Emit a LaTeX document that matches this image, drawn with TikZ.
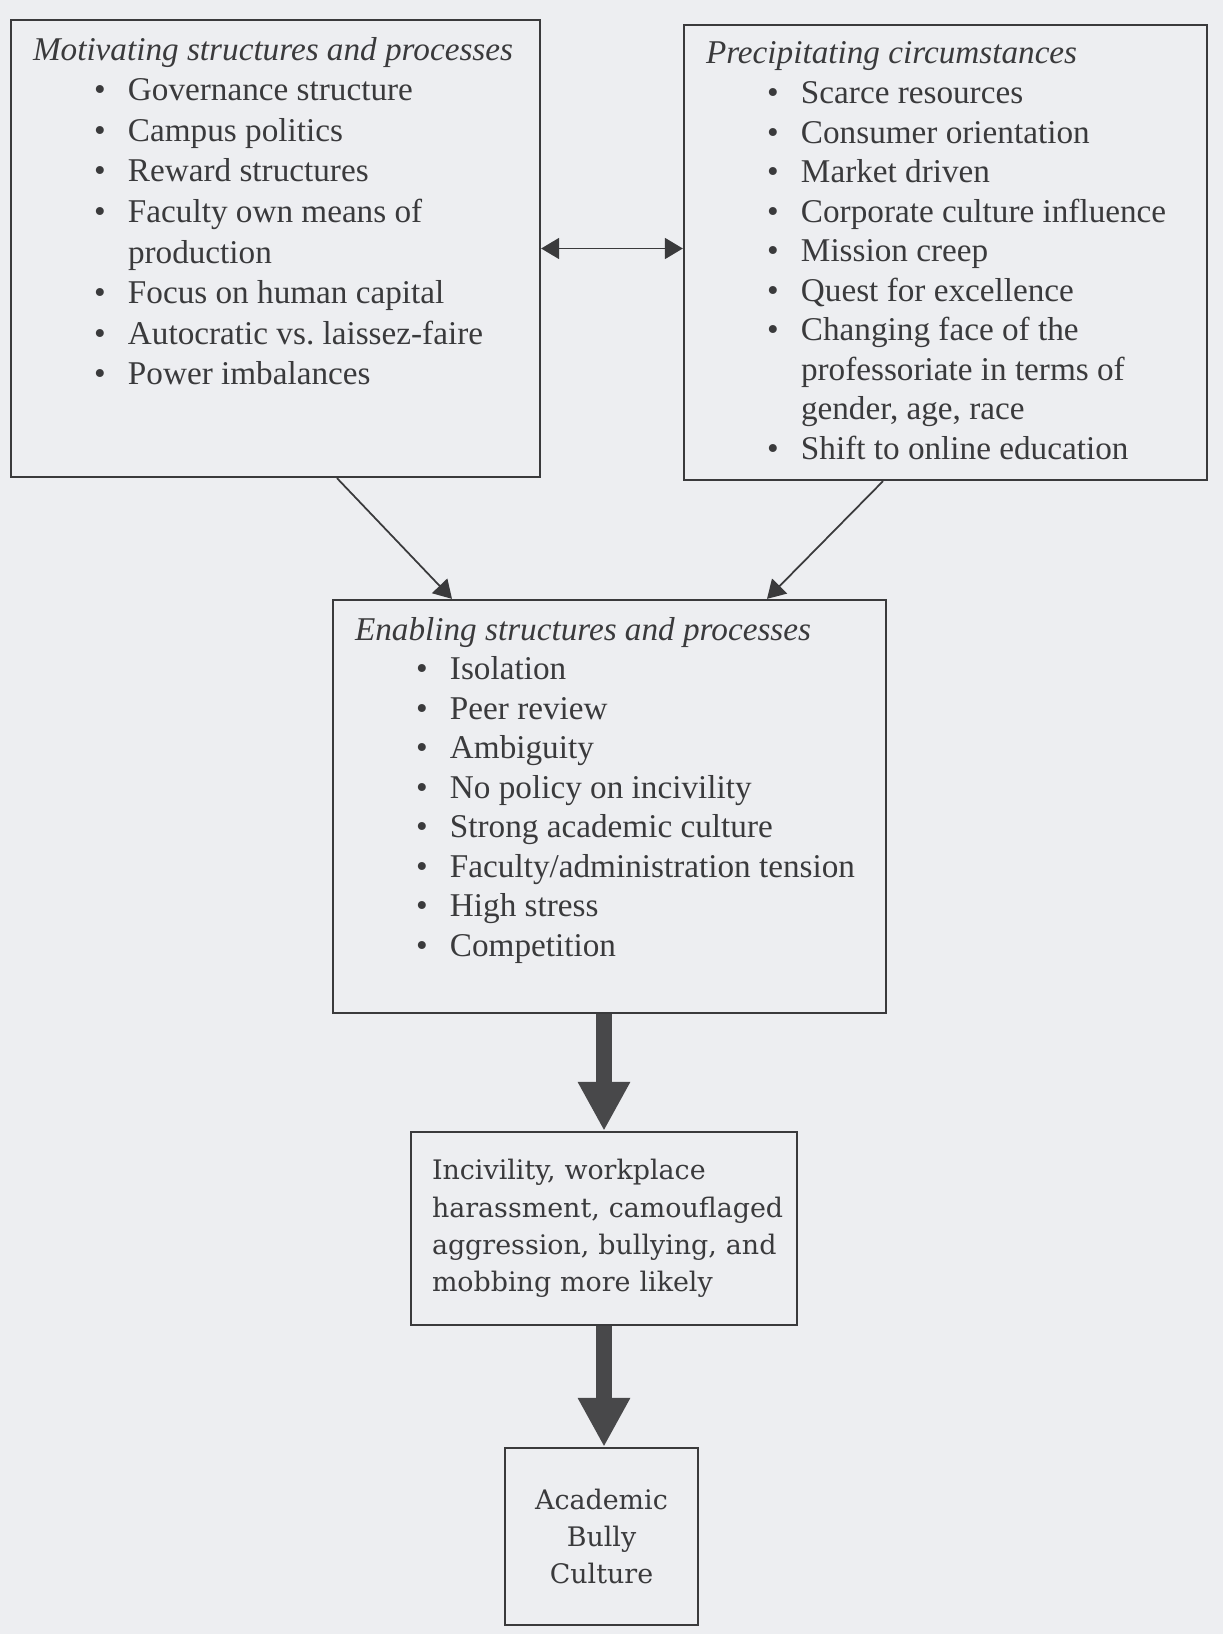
\documentclass[tikz,border=0pt]{standalone}
\usepackage{fontspec}
\setmainfont{Liberation Serif}
\newfontfamily\schoolfont{DejaVu Serif}
\usepackage{tikz}
\usetikzlibrary{arrows.meta,positioning}
\definecolor{inkgray}{RGB}{58,58,60}
\definecolor{fatgray}{RGB}{72,72,74}
\definecolor{papergray}{RGB}{237,238,241}
\newlength{\txtind}
\setlength{\txtind}{1.9cm}
\newcommand{\boxtitle}[1]{\noindent\textit{#1}}
\newcommand{\bitem}[1]{\par\hangindent=\txtind\hangafter=0\noindent\llap{\makebox[0.68cm][l]{\textbullet}}#1}

\begin{document}
\begin{tikzpicture}[
		listbox/.style={draw=inkgray, line width=1.3pt, inner xsep=0.44cm, inner ysep=0.34cm,
			text=inkgray, font=\fontsize{18.9pt}{22.5pt}\selectfont},
		endbox/.style={draw=inkgray, line width=1.3pt, inner xsep=0.42cm, inner ysep=0pt,
			text=inkgray, font=\schoolfont\fontsize{15.3pt}{21.2pt}\selectfont},
		thinarrow/.style={-{Triangle[length=0.36cm,width=0.42cm]}, line width=1pt, inkgray},
		dblarrow/.style={{Triangle[length=0.36cm,width=0.42cm]}-{Triangle[length=0.36cm,width=0.42cm]}, line width=1pt, inkgray},
		fatarrow/.style={-{Triangle[length=0.98cm,width=0.98cm]}, line width=0.32cm, fatgray}
	]
		\path[fill=papergray, use as bounding box] (0,0) rectangle (24.46,-32.68);

		\node[listbox, font=\fontsize{18.9pt}{23.1pt}\selectfont] (m) at (5.51,-4.97) {\parbox[t][8.46cm][t]{9.7cm}{%
			\boxtitle{Motivating structures and processes}
			\bitem{Governance structure}
			\bitem{Campus politics}
			\bitem{Reward structures}
			\bitem{Faculty own means of\\production}
			\bitem{Focus on human capital}
			\bitem{Autocratic vs.\ laissez-faire}
			\bitem{Power imbalances}}};
		\node[listbox] (p) at (18.91,-5.05) {\parbox[t][8.42cm][t]{9.58cm}{%
			\boxtitle{Precipitating circumstances}
			\bitem{Scarce resources}
			\bitem{Consumer orientation}
			\bitem{Market driven}
			\bitem{Corporate culture influence}
			\bitem{Mission creep}
			\bitem{Quest for excellence}
			\bitem{Changing face of the\\professoriate in terms of\\gender, age, race}
			\bitem{Shift to online education}}};
		\node[listbox] (e) at (12.19,-16.13) {\parbox[t][7.58cm][t]{10.18cm}{%
			\boxtitle{Enabling structures and processes}
			\bitem{Isolation}
			\bitem{Peer review}
			\bitem{Ambiguity}
			\bitem{No policy on incivility}
			\bitem{Strong academic culture}
			\bitem{Faculty/administration tension}
			\bitem{High stress}
			\bitem{Competition}}};
		\node[endbox, text width=6.88cm, align=left, minimum height=3.86cm] (i) at (12.08,-24.57)
			{\mbox{Incivility, workplace}\\\mbox{harassment, camouflaged}\\\mbox{aggression, bullying, and}\\\mbox{mobbing more likely}};
		\node[endbox, text width=3.02cm, align=center, minimum height=3.54cm] (c) at (12.03,-30.73)
			{Academic\\Bully\\Culture};

		\draw[dblarrow] (m.east) -- (m.east -| p.west);
		\draw[thinarrow] ([xshift=1.23cm]m.south) -- ([xshift=-3.15cm]e.north);
		\draw[thinarrow] ([xshift=-1.25cm]p.south) -- ([xshift=3.15cm]e.north);
		\draw[fatarrow] (e.south -| i.north) -- (i.north);
		\draw[fatarrow] (i.south) -- (i.south |- c.north);
	\end{tikzpicture}
\end{document}
